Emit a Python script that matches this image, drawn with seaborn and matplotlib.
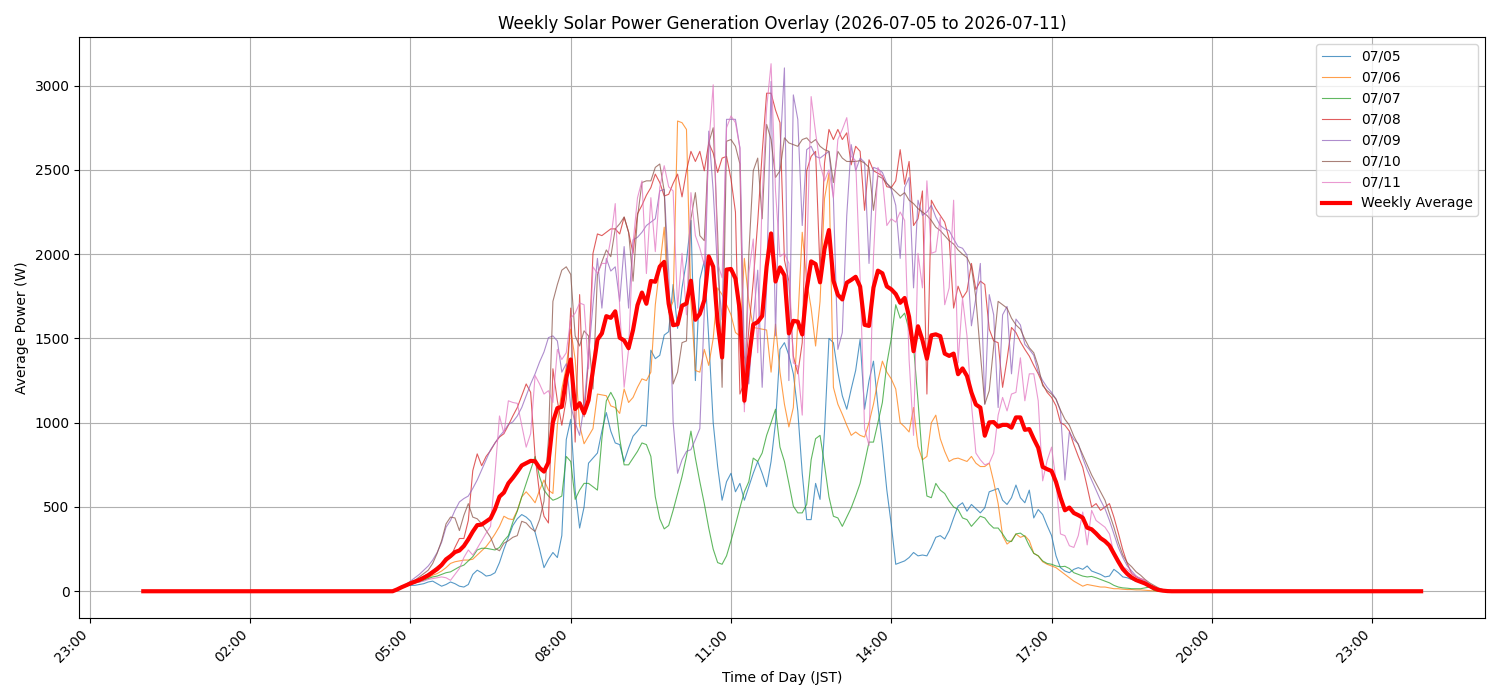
import matplotlib
matplotlib.use("Agg")
import matplotlib.pyplot as plt
import matplotlib.dates as mdates
import numpy as np
import pandas as pd
import seaborn as sns

# 5-minute samples; night hours (00:00-03:55 and 20:00-23:55) read as 0 W
NIGHT = [0] * 48

# Daytime values 04:00 .. 19:55, one row per hour (12 x 5 min)
d0705 = [
    0, 0, 0, 0, 0, 0, 0, 0, 0, 15, 30, 35,
    35, 35, 40, 45, 55, 60, 45, 30, 40, 55, 45, 30,
    25, 40, 100, 125, 110, 90, 95, 110, 170, 250, 320, 390,
    430, 455, 440, 415, 350, 250, 140, 190, 230, 200, 330, 900,
    1020, 600, 375, 500, 760, 790, 820, 950, 1060, 950, 880, 870,
    770, 850, 920, 950, 985, 980, 1430, 1380, 1400, 1520, 1540, 1820,
    1560, 1800, 1960, 2200, 1250, 1850, 1960, 1500, 1000, 740, 540, 650,
    700, 590, 640, 540, 620, 700, 770, 700, 620, 770, 1000, 1435,
    1475, 1400, 1290, 1070, 700, 425, 425, 640, 545, 950, 1500, 1475,
    1300, 1160, 1080, 1200, 1310, 1495, 1080, 1250, 1365, 1100, 865, 600,
    395, 160, 170, 180, 200, 230, 210, 215, 210, 260, 320, 330,
    310, 360, 435, 505, 525, 475, 515, 490, 465, 495, 590, 600,
    610, 540, 515, 555, 630, 555, 525, 600, 435, 485, 455, 390,
    330, 210, 140, 120, 110, 130, 140, 130, 150, 120, 110, 100,
    85, 90, 130, 110, 85, 80, 70, 60, 55, 40, 25, 15,
    8, 5, 2, 0, 0, 0, 0, 0, 0, 0, 0, 0,
]
d0706 = [
    0, 0, 0, 0, 0, 0, 0, 0, 0, 10, 20, 30,
    40, 50, 60, 70, 80, 95, 105, 120, 140, 165, 175, 180,
    185, 185, 190, 215, 240, 265, 300, 340, 385, 445, 430, 425,
    480, 560, 590, 560, 525, 600, 660, 600, 580, 985, 1200, 1330,
    1555, 1375, 985, 875, 920, 965, 1170, 1165, 1160, 1100, 1090, 1055,
    1200, 1120, 1150, 1210, 1260, 1250, 1300, 1700, 1925, 2160, 1655, 1720,
    2790, 2780, 2740, 1720, 1310, 1300, 1435, 1340, 1500, 1800, 1760, 1700,
    1640, 1535, 1515, 1975, 1720, 1565, 1560, 1555, 1550, 1300, 1585, 1300,
    1110, 975, 1090, 1600, 2130, 1840, 1680, 1455, 1720, 2330, 2480, 1210,
    1110, 1050, 985, 925, 945, 925, 915, 1000, 1110, 1250, 1365, 1300,
    1260, 1200, 1000, 975, 945, 1090, 860, 780, 800, 1000, 1045, 905,
    830, 770, 785, 790, 780, 770, 800, 760, 740, 740, 760, 650,
    520, 330, 280, 300, 340, 320, 330, 300, 225, 210, 175, 160,
    150, 140, 120, 100, 80, 60, 45, 30, 40, 35, 30, 25,
    25, 20, 15, 15, 12, 10, 10, 8, 8, 6, 4, 2,
    0, 0, 0, 0, 0, 0, 0, 0, 0, 0, 0, 0,
]
d0707 = [
    0, 0, 0, 0, 0, 0, 0, 0, 0, 10, 20, 30,
    40, 50, 55, 65, 75, 85, 90, 100, 110, 115, 130, 145,
    155, 180, 205, 245, 255, 255, 250, 245, 260, 300, 330, 410,
    475, 560, 640, 720, 800, 680, 600, 565, 540, 550, 565, 800,
    770, 545, 600, 640, 640, 620, 600, 905, 1130, 1180, 1130, 905,
    750, 750, 790, 830, 880, 870, 800, 560, 430, 370, 390, 480,
    580, 680, 800, 950, 790, 650, 520, 375, 250, 170, 160, 210,
    300, 395, 495, 590, 650, 790, 770, 820, 925, 1000, 1080, 855,
    770, 640, 505, 465, 465, 515, 780, 905, 925, 750, 560, 445,
    435, 385, 440, 495, 565, 640, 760, 885, 885, 1000, 1120, 1350,
    1500, 1700, 1620, 1650, 1550, 1455, 1130, 780, 565, 555, 640, 600,
    580, 535, 500, 485, 435, 425, 385, 415, 445, 435, 400, 375,
    375, 340, 300, 295, 340, 345, 325, 270, 225, 210, 180, 165,
    160, 150, 145, 148, 135, 110, 100, 90, 85, 88, 80, 70,
    60, 50, 35, 25, 20, 18, 15, 15, 15, 20, 25, 5,
    0, 0, 0, 0, 0, 0, 0, 0, 0, 0, 0, 0,
]
d0708 = [
    0, 0, 0, 0, 0, 0, 0, 0, 0, 10, 25, 40,
    55, 65, 75, 90, 105, 125, 145, 165, 175, 200, 260, 313,
    313, 420, 715, 815, 745, 800, 835, 880, 915, 935, 985, 1040,
    1090, 1160, 1230, 1180, 800, 580, 445, 405, 1320, 1130, 985, 1140,
    1680, 885, 1760, 1035, 1375, 2005, 2120, 2110, 2130, 2150, 2150, 2120,
    2220, 2130, 2005, 2240, 2290, 2350, 2395, 2475, 2425, 2345, 2355, 2420,
    2475, 2340, 2495, 2610, 2550, 2610, 2495, 2660, 2600, 2485, 2570, 2580,
    2445, 2250, 1170, 1240, 1550, 1840, 2190, 2600, 2955, 2955, 2855, 2780,
    1965, 1840, 1395, 1290, 1475, 2495, 2580, 2610, 1895, 2540, 2740, 2680,
    2740, 2680, 2720, 2530, 2640, 2610, 2260, 2560, 2495, 2480, 2465, 2400,
    2395, 2435, 2620, 2415, 2550, 2170, 2210, 2375, 1170, 2320, 2270, 2230,
    2190, 2090, 1680, 1810, 1740, 1780, 1945, 1790, 1840, 1820, 1555, 1485,
    1475, 1210, 1375, 1565, 1535, 1480, 1435, 1395, 1340, 1290, 1230, 1180,
    1150, 1100, 1000, 985, 950, 870, 800, 735, 620, 500, 520, 480,
    500, 520, 440, 345, 245, 165, 105, 85, 75, 65, 40, 25,
    10, 5, 0, 0, 0, 0, 0, 0, 0, 0, 0, 0,
]
d0709 = [
    0, 0, 0, 0, 0, 0, 0, 0, 0, 10, 25, 40,
    60, 80, 100, 125, 150, 185, 230, 290, 380, 420, 480, 530,
    550, 565, 610, 660, 720, 780, 840, 880, 920, 950, 990, 1005,
    1040, 1090, 1160, 1230, 1290, 1360, 1420, 1505, 1515, 1485, 1300, 1350,
    1100, 1000, 925, 1100, 1400, 1700, 1975, 1680, 1975, 1900, 1925, 1720,
    2045, 1680, 2085, 2100, 2130, 2170, 2190, 2210, 2375, 2385, 1900, 1005,
    700, 780, 830, 840, 900, 965, 1660, 2730, 2375, 1900, 1610, 2800,
    2800, 2800, 2630, 1395, 1230, 1600, 1905, 1210, 1800, 3025, 1515, 2600,
    3105, 1250, 2945, 2800, 2170, 2620, 2640, 2580, 2570, 2590, 2610, 2335,
    1435, 1535, 2230, 2650, 2495, 2570, 2545, 1945, 2515, 2505, 2485, 2420,
    2385, 2290, 1975, 2395, 2455, 1800, 2320, 2230, 2250, 2290, 2220, 2170,
    2150, 2140, 2090, 2045, 2035, 1995, 1575, 1740, 1945, 1110, 1760, 1640,
    1090, 1640, 1690, 1290, 1615, 1580, 1465, 1435, 1400, 1300, 1250, 1210,
    1180, 1140, 1070, 660, 945, 900, 875, 790, 720, 660, 600, 540,
    490, 420, 340, 260, 200, 150, 120, 90, 70, 55, 35, 20,
    8, 0, 0, 0, 0, 0, 0, 0, 0, 0, 0, 0,
]
d0710 = [
    0, 0, 0, 0, 0, 0, 0, 0, 0, 10, 25, 40,
    55, 65, 85, 105, 125, 165, 225, 300, 400, 440, 435, 360,
    450, 520, 440, 430, 400, 360, 320, 255, 240, 285, 300, 320,
    330, 415, 405, 375, 355, 425, 535, 900, 1720, 1820, 1905, 1925,
    1880, 1515, 1455, 1545, 1515, 1200, 1880, 1955, 2025, 1985, 2150, 2180,
    2220, 2130, 1840, 2220, 2425, 2435, 2435, 2515, 2535, 2375, 1700, 1230,
    1300, 1475, 1485, 2210, 2365, 2110, 2080, 2660, 2750, 2120, 1210, 2670,
    2680, 2640, 2535, 1110, 2000, 2495, 2570, 2210, 2770, 2680, 2455, 2495,
    2690, 2660, 2650, 2640, 2680, 2690, 2660, 2680, 2640, 2620, 2610, 2425,
    2610, 2570, 2550, 2550, 2550, 2555, 2540, 2515, 2260, 2465, 2450, 2420,
    2395, 2370, 2345, 2365, 2320, 2300, 2270, 2250, 2230, 2200, 2160, 2140,
    2110, 2080, 2060, 2025, 2000, 1980, 1925, 1740, 1415, 1110, 1190, 1455,
    1720, 1700, 1680, 1620, 1580, 1555, 1495, 1445, 1415, 1335, 1220, 1190,
    1170, 1140, 1075, 1020, 985, 920, 870, 810, 750, 690, 640, 590,
    540, 460, 380, 290, 215, 170, 145, 115, 95, 70, 50, 35,
    20, 10, 5, 0, 0, 0, 0, 0, 0, 0, 0, 0,
]
d0711 = [
    0, 0, 0, 0, 0, 0, 0, 0, 0, 10, 20, 30,
    40, 50, 55, 60, 70, 75, 80, 85, 80, 65, 100, 135,
    200, 245, 215, 255, 300, 345, 385, 700, 1040, 935, 1130, 1120,
    1115, 985, 855, 935, 1280, 1230, 1170, 1190, 1120, 1435, 1375, 1415,
    1620, 1650, 1710, 1700, 1320, 1925, 1885, 1945, 1945, 2090, 2300, 1680,
    1210, 1435, 2065, 2335, 2435, 1885, 2335, 2015, 2395, 2525, 2400, 2375,
    1680, 2005, 1640, 2365, 2110, 2035, 1935, 2640, 3005, 1945, 1860, 2750,
    2820, 2780, 2630, 1065, 1885, 2090, 1415, 2335, 2865, 3130, 2375, 1985,
    2005, 1945, 1355, 1335, 1045, 1965, 2935, 2720, 2535, 2435, 2500, 2335,
    2680, 2740, 2810, 2580, 2555, 1860, 965, 865, 1985, 2515, 2455, 2170,
    2210, 2190, 2250, 2200, 1375, 925, 2005, 1800, 2435, 2005, 2015, 2220,
    1700, 1800, 2320, 1355, 1740, 1515, 1110, 820, 780, 750, 760, 820,
    1045, 1150, 1070, 1170, 1180, 1385, 1130, 1290, 1290, 1130, 655, 775,
    855, 655, 340, 330, 270, 260, 330, 470, 275, 480, 420, 400,
    380, 340, 225, 185, 145, 130, 105, 90, 75, 65, 40, 25,
    10, 5, 0, 0, 0, 0, 0, 0, 0, 0, 0, 0,
]

day_labels = ["07/05", "07/06", "07/07", "07/08", "07/09", "07/10", "07/11"]
day_values = [d0705, d0706, d0707, d0708, d0709, d0710, d0711]
tick_hours = [2, 5, 8, 11, 14, 17, 20, 23]

times = pd.date_range("2026-07-05 00:00", periods=288, freq="5min")
series = {lab: np.array(NIGHT + vals + NIGHT, dtype=float)
          for lab, vals in zip(day_labels, day_values)}
df = pd.DataFrame(series, index=times)
weekly_avg = df.mean(axis=1)

fig, ax = plt.subplots(figsize=(15, 7), dpi=100)
palette = sns.color_palette("tab10", 7)
for lab, col in zip(day_labels, palette):
    sns.lineplot(x=df.index, y=df[lab].values, ax=ax, label=lab,
                 color=col, linewidth=0.8, alpha=0.75)
sns.lineplot(x=df.index, y=weekly_avg.values, ax=ax, label="Weekly Average",
             color="red", linewidth=3)

ax.grid(True)
ax.xaxis.set_major_locator(mdates.HourLocator(byhour=tick_hours))
ax.xaxis.set_major_formatter(mdates.DateFormatter("%H:%M"))
plt.setp(ax.get_xticklabels(), rotation=45, ha="right")
ax.set_title("Weekly Solar Power Generation Overlay (2026-07-05 to 2026-07-11)")
ax.set_xlabel("Time of Day (JST)")
ax.set_ylabel("Average Power (W)")
ax.legend(loc="upper right")
fig.tight_layout()
fig.savefig("out.png", dpi=100)
